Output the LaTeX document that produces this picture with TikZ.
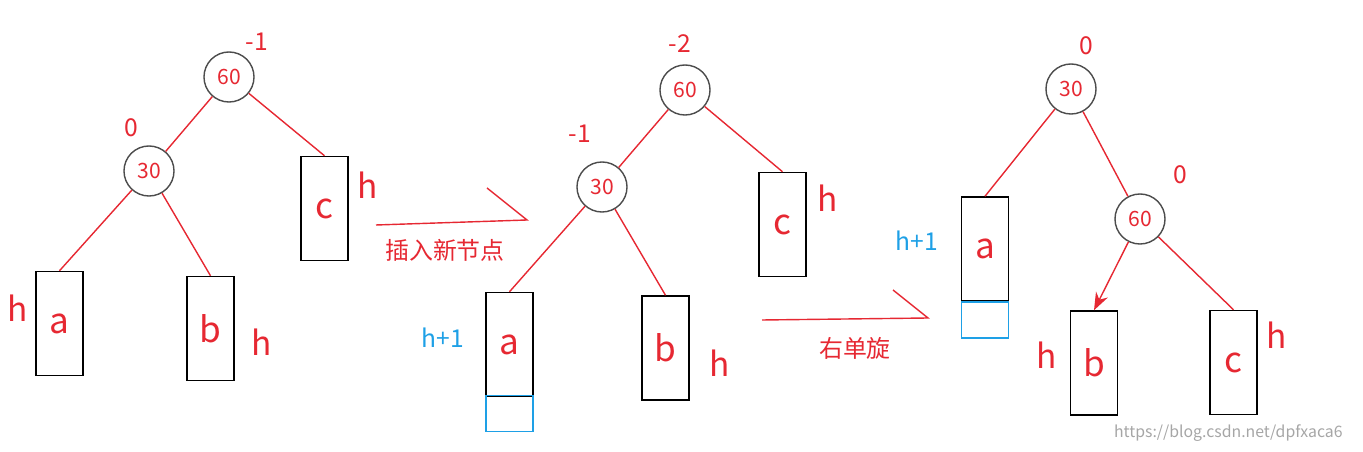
\documentclass[tikz,border=0pt]{standalone}
\usepackage{fontspec}
\setmainfont{Noto Sans CJK SC}
\usetikzlibrary{arrows.meta}
\definecolor{hred}{RGB}{230,40,50}
\definecolor{hblue}{RGB}{30,160,230}
\begin{document}
\begin{tikzpicture}[x=0.01cm,y=-0.01cm]
 \tikzstyle{knot}=[circle, draw=black!70, minimum size=0.5cm, inner sep=0pt, text=hred, font=\fontsize{6}{7}\selectfont]
 \tikzstyle{bal}=[text=hred, font=\fontsize{7}{8}\selectfont]
 \tikzstyle{sub}=[draw=black, minimum width=0.47cm, minimum height=1.04cm, inner sep=0pt, text=hred, font=\fontsize{10}{12}\selectfont]
 \tikzstyle{extra}=[draw=hblue, minimum width=0.47cm, minimum height=0.36cm, inner sep=0pt]
 \tikzstyle{hgt}=[text=hred, font=\fontsize{9.5}{11}\selectfont]
 \tikzstyle{hone}=[text=hblue, font=\fontsize{7}{8}\selectfont]
 \tikzstyle{edge}=[draw=hred, thin]
 \tikzstyle{movearrow}=[draw=hred, thin]
 \tikzstyle{caption}=[text=hred, font=\fontsize{6.8}{8}\selectfont]
 \useasboundingbox (0,0) rectangle (1363,452);
 %
 \node[knot] (A60) at (229,77) {60};
 \node[bal] at (257,42) {-1};
 \node[knot] (A30) at (149,171) {30};
 \node[bal] at (131,128) {0};
 \node[sub] (Aa) at (59.5,323.5) {a};
 \node[hgt] at (18,308) {h};
 \node[sub] (Ab) at (210.5,328.5) {b};
 \node[hgt] at (262,342) {h};
 \node[sub] (Ac) at (324.5,208.5) {c};
 \node[hgt] at (368,185) {h};
 \draw[edge] (A60)--(A30);
 \draw[edge] (A60)--(Ac.north);
 \draw[edge] (A30)--(Aa.north);
 \draw[edge] (A30)--(Ab.north);
 %
 \coordinate (S1) at (376,225);
 \coordinate (E1) at (527,220);
 \coordinate (T1) at (487,188);
 \draw[movearrow] (S1)--(E1)--(T1);
 \node[caption] at (445,250) {插入新节点};
 %
 \node[knot] (B60) at (685,90) {60};
 \node[bal] at (680,44) {-2};
 \node[knot] (B30) at (602,187) {30};
 \node[bal] at (580,134) {-1};
 \node[sub] (Ba) at (509.5,344.5) {a};
 \node[extra] at (509.5,413.5) {};
 \node[hone] at (443,338) {h+1};
 \node[sub] (Bb) at (665.5,348) {b};
 \node[hgt] at (720,363) {h};
 \node[sub] (Bc) at (782.5,224.5) {c};
 \node[hgt] at (828,198) {h};
 \draw[edge] (B60)--(B30);
 \draw[edge] (B60)--(Bc.north);
 \draw[edge] (B30)--(Ba.north);
 \draw[edge] (B30)--(Bb.north);
 %
 \coordinate (S2) at (762,320);
 \coordinate (E2) at (928,318);
 \coordinate (T2) at (893,290);
 \draw[movearrow] (S2)--(E2)--(T2);
 \node[caption] at (855,348) {右单旋};
 %
 \node[knot] (C30) at (1071,89) {30};
 \node[bal] at (1086,46) {0};
 \node[knot] (C60) at (1140,219) {60};
 \node[bal] at (1180,175) {0};
 \node[sub] (Ca) at (985,249) {a};
 \node[extra] at (985,320) {};
 \node[hone] at (917,241) {h+1};
 \node[sub] (Cb) at (1094,363) {b};
 \node[hgt] at (1047,355) {h};
 \node[sub] (Cc) at (1233.5,362.5) {c};
 \node[hgt] at (1277,335) {h};
 \draw[edge] (C30)--(Ca.north);
 \draw[edge] (C30)--(C60);
 \draw[edge, -{Stealth[length=5pt]}] (C60)--(Cb.north);
 \draw[edge] (C60)--(Cc.north);
 %
 \node[text=black!35, font=\fontsize{4.5}{5}\selectfont, anchor=east] at (1355,433) {https://blog.csdn.net/dpfxaca6};
\end{tikzpicture}
\end{document}
